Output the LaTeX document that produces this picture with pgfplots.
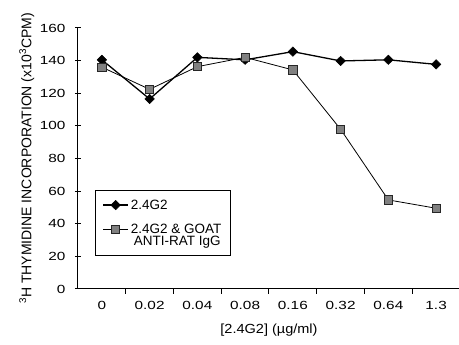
\documentclass[border=0pt]{standalone}
\usepackage{fontspec}
\setmainfont{Liberation Sans}
\newfontfamily\tickfont{Liberation Sans}[FakeStretch=1.3]
\newfontfamily\xlabfont{Liberation Sans}[FakeStretch=1.1]
\usepackage{pgfplots}
\pgfplotsset{compat=1.18}
\pgfplotsset{
  dstyle/.style={black, line width=1.3pt, mark=diamond*, mark size=4.7pt,
     mark options={fill=black, xscale=1.35, line width=0.5pt}},
  sstyle/.style={black, line width=0.8pt, mark=square*, mark size=4.1pt,
     mark options={fill=black!50, draw=black!85, line width=0.7pt}},
}
\begin{document}
\begin{tikzpicture}[x=1pt,y=1pt]
\useasboundingbox (0,0) rectangle (459,345);
\begin{axis}[
  at={(78pt,56pt)}, anchor=south west,
  scale only axis, width=382pt, height=261pt,
  xmin=-0.5, xmax=7.5, ymin=0, ymax=160,
  axis x line*=bottom, axis y line*=left,
  axis line style={-, line width=1pt},
  tick align=outside,
  xtick={0,...,7},
  xticklabels={0,0.02,0.04,0.08,0.16,0.32,0.64,1.3},
  minor xtick={0.5,1.5,...,6.5},
  major x tick style={draw=none},
  minor tick length=5pt,
  minor x tick style={line width=1pt, black},
  ytick={0,20,...,160},
  major tick length=6pt,
  major y tick style={line width=1pt, black, xshift=3pt},
  /pgf/number format/assume math mode=true,
  ticklabel style={font=\tickfont\fontsize{11.8}{13}\selectfont},
  yticklabel style={xshift=-3pt},
  xticklabel style={yshift=-3pt},
  xlabel={[2.4G2] (µg/ml)},
  xlabel style={font=\xlabfont\fontsize{13.2}{15}\selectfont, at={(axis description cs:0.5,-0.157)}, anchor=center},
  ylabel={\textsuperscript{3}H THYMIDINE INCORPORATION (x10\textsuperscript{3}CPM)},
  ylabel style={font=\fontsize{14}{16}\selectfont, at={(axis description cs:-0.134,0.5)}, anchor=center},
  legend cell align=left,
  legend image code/.code={\draw[mark repeat=2,mark phase=2] plot coordinates {(0pt,0pt) (12.5pt,0pt) (25pt,0pt)};},
  legend style={at={(rel axis cs:0.0445,0.379)}, anchor=north west, draw=black, line width=1pt,
     inner xsep=7pt, inner ysep=8.5pt, row sep=0pt,
     font=\fontsize{13.5}{15}\selectfont,
     nodes={inner ysep=0pt, inner xsep=2pt}},
  clip=false,
]
\addplot[dstyle, forget plot] coordinates {(0,140.5) (1,116.5) (2,142) (3,140.5) (4,145.5) (5,139.8) (6,140.5) (7,137.7)};
\addplot[sstyle, forget plot] coordinates {(0,136) (1,122.4) (2,136.3) (3,142) (4,134.3) (5,97.9) (6,54.6) (7,49.5)};
\addlegendimage{dstyle}
\addlegendentry{\strut 2.4G2}
\addlegendimage{empty legend}
\addlegendentry{\strut}
\addlegendimage{sstyle}
\addlegendentry{\strut 2.4G2 \& GOAT}
\addlegendimage{empty legend}
\addlegendentry{\strut\hspace{3pt}ANTI-RAT IgG}
\end{axis}
\end{tikzpicture}
\end{document}
